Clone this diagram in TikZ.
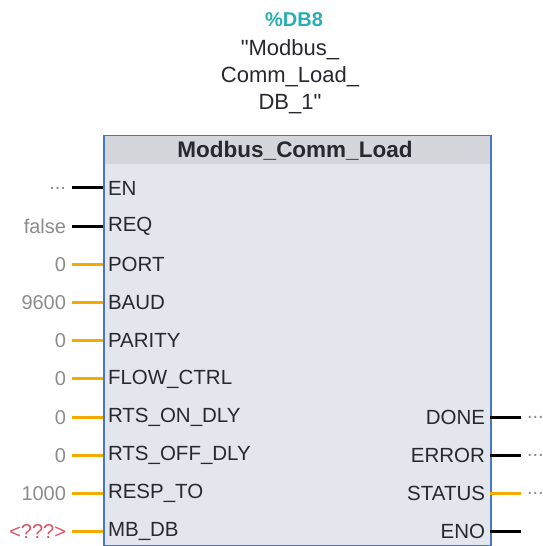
\documentclass[tikz,border=0pt]{standalone}
\usepackage{fontspec}
\setmainfont{Liberation Sans}
\newfontfamily\rawfont{Liberation Sans}
\newcommand{\openend}{...}
\newcommand{\dq}{{\rawfont\symbol{34}}}
\begin{document}
\begin{tikzpicture}[x=1pt,y=1pt,
  pintext/.style={inner sep=0pt,outer sep=0pt,text=labelColor,font=\fontsize{20.5}{21}\selectfont},
  valtext/.style={anchor=east,inner sep=0pt,outer sep=0pt,font=\fontsize{20}{21}\selectfont},
  pinline/.style={line width=3pt}]
\definecolor{fillColor}{RGB}{255,255,255}
\definecolor{labelColor}{RGB}{40,40,48}
\definecolor{valueColor}{RGB}{140,140,140}
\definecolor{undefColor}{RGB}{225,80,100}
\definecolor{instColor}{RGB}{40,175,180}
\definecolor{wordColor}{RGB}{245,170,0}
\definecolor{boolColor}{RGB}{0,0,0}
\definecolor{borderColor}{RGB}{70,120,200}
\definecolor{headColor}{RGB}{212,214,220}
\definecolor{bodyColor}{RGB}{228,230,237}
\path[use as bounding box,fill=fillColor] (0,0) rectangle (543,546);

% instance data block
\node[text=instColor,inner sep=0pt,font=\bfseries\fontsize{20}{20}\selectfont] (dbnum) at (294,526) {\%DB8};
\node[text=labelColor,inner sep=0pt,align=center,font=\fontsize{22}{27}\selectfont] (dbname) at (290,469)
  {\dq Modbus\_\\Comm\_Load\_\\DB\_1\dq};

% block body
\path[fill=bodyColor] (103,1) rectangle (490,411);
\path[fill=headColor] (103,382) rectangle (490,411);
\node[draw=borderColor,line width=1.5pt,inner sep=0pt,anchor=north west,
  minimum width=387,minimum height=410] (block) at (103,411) {};
\node[text=labelColor,inner sep=0pt,font=\bfseries\fontsize{22.5}{23}\selectfont] (title) at (295,395) {Modbus\_Comm\_Load};

% inputs
\foreach \i/\lbl/\val/\vc/\pc in {0/EN/\openend/valueColor/boolColor,
    1/REQ/false/valueColor/boolColor,
    2/PORT/0/valueColor/wordColor,
    3/BAUD/9600/valueColor/wordColor,
    4/PARITY/0/valueColor/wordColor,
    5/FLOW\_CTRL/0/valueColor/wordColor,
    6/RTS\_ON\_DLY/0/valueColor/wordColor,
    7/RTS\_OFF\_DLY/0/valueColor/wordColor,
    8/RESP\_TO/1000/valueColor/wordColor,
    9/MB\_DB/<???>/undefColor/wordColor} {
  \coordinate (inpin-\i) at (103,358-38.2*\i);
  \node[pintext,anchor=west] (in-\i) at ([xshift=5pt]inpin-\i) {\lbl};
  \node[valtext,text=\vc] (inval-\i) at ([xshift=-37pt]inpin-\i) {\val};
  \path[draw=\pc,pinline] ([xshift=6pt]inval-\i.east) -- (inpin-\i);
}

% outputs
\foreach \i/\lbl/\pc in {6/DONE/boolColor,7/ERROR/boolColor,8/STATUS/wordColor,9/ENO/boolColor} {
  \coordinate (outpin-\i) at (490,358-38.2*\i);
  \coordinate (outend-\i) at ([xshift=31pt]outpin-\i);
  \node[pintext,anchor=east] (out-\i) at ([xshift=-5pt]outpin-\i) {\lbl};
  \path[draw=\pc,pinline] (outpin-\i) -- (outend-\i);
}
\foreach \i in {6,7,8} {
  \node[valtext,anchor=west,text=valueColor] (outval-\i) at ([xshift=6pt]outend-\i) {\openend};
}
\end{tikzpicture}
\end{document}
